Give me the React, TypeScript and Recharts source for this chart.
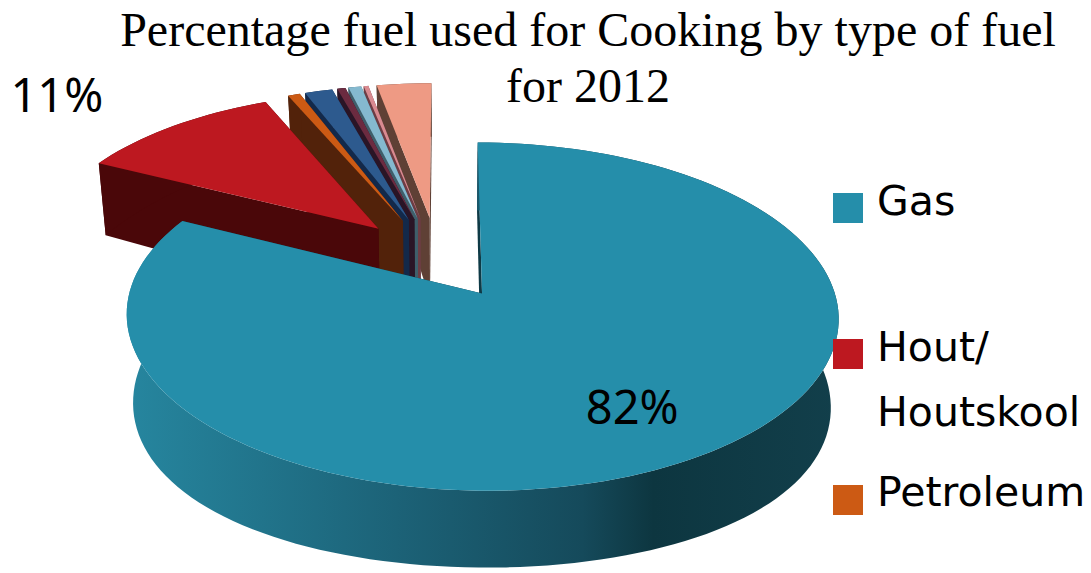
import { Legend, Pie, PieChart } from 'recharts'

// slices in the order of the source legend; only the first three fit in the picture
const CATEGORIES = ['Gas', 'Hout/ Houtskool', 'Petroleum', 'Other 1', 'Other 2', 'Other 3', 'Other 4', 'Other 5']
const VALUES = [82, 11, 0.65, 1.5, 0.45, 0.7, 0.25, 2.95]
const TOP_COLORS = ['#258eaa', '#bd1820', '#cc5a14', '#2d5a8e', '#6b2b40', '#85b9cf', '#d98a90', '#ee9a84']
const WALL_COLORS = ['#0e3a46', '#4a0709', '#52220a', '#13294a', '#2a1526', '#3f5f6b', '#6d3d44', '#5f4035']
const LEGEND_LINES = [['Gas'], ['Hout/', 'Houtskool'], ['Petroleum']]

// drawn far side first so Gas ends up on top, hence the reverse + counter clockwise sweep
const tableData = CATEGORIES.map((name, i) => ({
  name,
  value: VALUES[i],
  fill: TOP_COLORS[i],
  wall: WALL_COLORS[i],
})).reverse()

const W = 1091
const H = 573
const CX = 445
const CY = 265
const RADIUS = 345
const TILT = 0.474
const PERSPECTIVE = 0.13
const GAS_EXPLODE = 0.2
const REST_EXPLODE = 0.28
const FONT = '"DejaVu Sans", sans-serif'
const LABEL_FONT = '"Noto Sans", sans-serif'

const rad = (deg: number) => (deg * Math.PI) / 180

// ground plane -> screen
function project(wx: number, wz: number, cx: number, cy: number, r: number) {
  const w = 1 + PERSPECTIVE * wz
  return { x: cx + (r * wx) / w, y: cy - (r * TILT * wz) / w }
}

// same point on the underside of the disc
function drop(p: { x: number; y: number }, cx: number, cy: number) {
  const y = p.y - cy
  const depth = -0.00054 * y * y + 0.0816 * y + 86
  return { x: cx + (p.x - cx) * 0.98, y: p.y + depth }
}

const toPath = (pts: { x: number; y: number }[]) =>
  pts.map((p, i) => `${i ? 'L' : 'M'}${p.x.toFixed(2)} ${p.y.toFixed(2)}`).join(' ') + ' Z'

function Slice3D(props: any) {
  const { cx, cy, outerRadius, startAngle, endAngle, fill, payload, name } = props
  const sliceName = payload?.name ?? name
  const isGas = sliceName === CATEGORIES[0]
  const isHout = sliceName === CATEGORIES[1]
  const explode = isGas ? GAS_EXPLODE : REST_EXPLODE
  const mid = rad((startAngle + endAngle) / 2)
  // the thin slices sit a little further left and back than a plain explode puts them
  const ox = explode * Math.cos(mid) + (isGas ? 0 : isHout ? -0.006 : -0.02)
  const oz = explode * Math.sin(mid) + (isGas ? 0 : isHout ? 0.025 : 0.02)

  const apex = project(ox, oz, cx, cy, outerRadius)
  const rim = []
  const steps = Math.max(4, Math.ceil(Math.abs(endAngle - startAngle) / 2))
  for (let i = 0; i <= steps; i++) {
    const a = rad(startAngle + ((endAngle - startAngle) * i) / steps)
    rim.push(project(ox + Math.cos(a), oz + Math.sin(a), cx, cy, outerRadius))
  }
  const rimLow = rim.map((p) => drop(p, cx, cy))
  const apexLow = drop(apex, cx, cy)
  const wall = payload?.wall ?? props.wall
  const gradId = 'gasWall'

  return (
    <g>
      {isGas && (
        <defs>
          <linearGradient id={gradId} x1="0" y1="0" x2="1" y2="0">
            <stop offset="0" stopColor="#26869f" />
            <stop offset="0.38" stopColor="#1c6277" />
            <stop offset="0.64" stopColor="#154a5b" />
            <stop offset="0.74" stopColor="#0d3640" />
            <stop offset="1" stopColor="#123f4b" />
          </linearGradient>
        </defs>
      )}
      <path d={toPath([apex, rim[0], rimLow[0], apexLow])} fill={wall} />
      <path d={toPath([apex, rim[rim.length - 1], rimLow[rimLow.length - 1], apexLow])} fill={wall} />
      <path d={toPath([...rim, ...[...rimLow].reverse()])} fill={isGas ? `url(#${gradId})` : wall} />
      <path d={toPath([apex, ...rim])} fill={fill} />
    </g>
  )
}

function SliceLabel(props: any) {
  const { cx, cy, outerRadius, midAngle, name, value } = props
  const isGas = name === CATEGORIES[0]
  if (!isGas && name !== CATEGORIES[1]) return null
  const reach = isGas ? 0.91 : 1.86
  const a = rad(midAngle)
  const p = project(reach * Math.cos(a), reach * Math.sin(a), cx, cy, outerRadius)
  return (
    <text
      x={p.x + (isGas ? 4 : -13)}
      y={p.y + (isGas ? 0 : 17)}
      textAnchor="middle"
      dominantBaseline="central"
      fontFamily={LABEL_FONT}
      fontSize={47}
      fill="#000"
    >
      {value}%
    </text>
  )
}

function FuelLegend() {
  const swatchTops = [193, 339, 485]
  const baselines = [[216], [362, 427], [507]]
  return (
    <div style={{ position: 'relative', width: W, height: H, pointerEvents: 'none' }}>
      {LEGEND_LINES.map((lines, i) => (
        <div key={lines[0]}>
          <span
            style={{
              position: 'absolute',
              left: 833,
              top: swatchTops[i],
              width: 30,
              height: 30,
              background: TOP_COLORS[i],
            }}
          />
          {lines.map((line, j) => (
            <span
              key={line}
              style={{
                position: 'absolute',
                left: 877,
                top: baselines[i][j] - 38,
                fontFamily: FONT,
                fontSize: 41,
                lineHeight: '47px',
                color: '#000',
                whiteSpace: 'nowrap',
              }}
            >
              {line}
            </span>
          ))}
        </div>
      ))}
    </div>
  )
}

export default function App() {
  return (
    <div style={{ position: 'absolute', left: 0, top: 0, width: W, height: H, background: '#fff', overflow: 'hidden' }}>
      <PieChart width={W} height={H} margin={{ top: 0, right: 0, bottom: 0, left: 0 }}>
        <Pie
          data={tableData}
          dataKey="value"
          nameKey="name"
          cx={CX}
          cy={CY}
          innerRadius={0}
          outerRadius={RADIUS}
          startAngle={90}
          endAngle={450}
          stroke="none"
          shape={Slice3D}
          label={SliceLabel}
          labelLine={false}
          isAnimationActive={false}
        />
        <Legend
          content={() => <FuelLegend />}
          wrapperStyle={{ position: 'absolute', left: 0, top: 0, width: W, height: H }}
        />
      </PieChart>
      <div
        style={{
          position: 'absolute',
          left: 88,
          top: 2,
          width: 1000,
          textAlign: 'center',
          fontFamily: '"Liberation Serif", serif',
          fontSize: 48,
          lineHeight: '56px',
          color: '#000',
        }}
      >
        Percentage fuel used for Cooking by type of fuel
        <br />
        for 2012
      </div>
    </div>
  )
}
